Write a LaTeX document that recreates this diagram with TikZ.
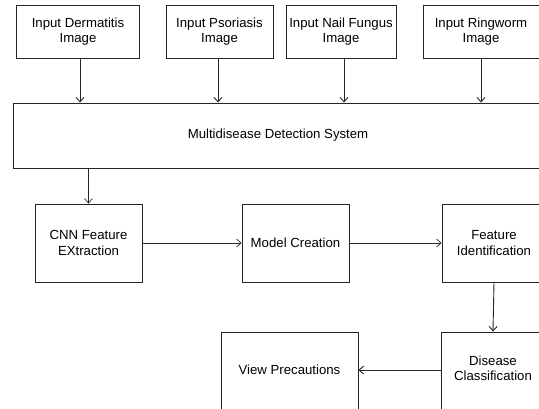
\documentclass[tikz,border=0pt]{standalone}
\usepackage{fontspec}
\setmainfont{Liberation Sans}
\usetikzlibrary{arrows.meta}
\begin{document}
\begin{tikzpicture}[x=1pt,y=-1pt,
  box/.style={draw=black!85, line width=0.9pt, align=center, inner sep=0pt,
    font=\fontsize{13.2}{15.5}\selectfont},
  conn/.style={draw=black!85, line width=0.7pt, -{Straight Barb[length=4.5pt,width=8pt]}}]
\useasboundingbox (0,0) rectangle (539,408);
\clip (0,0) rectangle (539,408);
\fill[white] (0,0) rectangle (539,408);
% top inputs
\node[box, minimum width=123pt, minimum height=53pt] (d1) at (78,31.5) {Input Dermatitis\\Image};
\node[box, minimum width=107pt, minimum height=53pt] (d2) at (219.5,31.5) {Input Psoriasis\\Image};
\node[box, minimum width=110pt, minimum height=53pt] (d3) at (341,31.5) {Input Nail Fungus\\Image};
\node[box, minimum width=116pt, minimum height=53pt] (d4) at (481,31.5) {Input Ringworm\\Image};
% system
\node[box, minimum width=530pt, minimum height=65pt] (sys) at (278,135.5) {Multidisease Detection System};
% row 2
\node[box, minimum width=107pt, minimum height=78pt] (cnn) at (88.5,243) {CNN Feature\\EXtraction};
\node[box, minimum width=107pt, minimum height=78pt] (model) at (295.5,243) {Model Creation};
\node[box, minimum width=104pt, minimum height=78pt] (feat) at (494,243) {Feature\\Identification};
% row 3 (boxes run past the lower edge)
\node[box, minimum width=137pt, minimum height=96pt] (view) at (289.5,380) {\raisebox{5.3pt}[0pt][0pt]{View Precautions}};
\node[box, minimum width=104pt, minimum height=96pt] (dis) at (493,380) {\raisebox{6.7pt}[0pt][0pt]{\begin{tabular}{@{}c@{}}Disease\\[-0.5pt]Classification\end{tabular}}};
% connectors
\coordinate (a1) at (80,0);
\coordinate (a2) at (218,0);
\coordinate (a3) at (344,0);
\coordinate (a4) at (481,0);
\coordinate (r3) at (0,370);
\draw[conn, line width=0.9pt] (a1 |- d1.south) -- (a1 |- sys.north);
\draw[conn, line width=0.9pt] (a2 |- d2.south) -- (a2 |- sys.north);
\draw[conn, line width=0.9pt] (a3 |- d3.south) -- (a3 |- sys.north);
\draw[conn, line width=0.9pt] (a4 |- d4.south) -- (a4 |- sys.north);
\draw[conn] (cnn.north |- sys.south) -- (cnn.north);
\draw[conn] (cnn.east) -- (model.west);
\draw[conn] (model.east) -- (feat.west);
\draw[conn, line width=0.9pt] (feat.south) -- (dis.north);
\draw[conn, line width=0.9pt] (dis.west |- r3) -- (view.east |- r3);
\end{tikzpicture}
\end{document}
